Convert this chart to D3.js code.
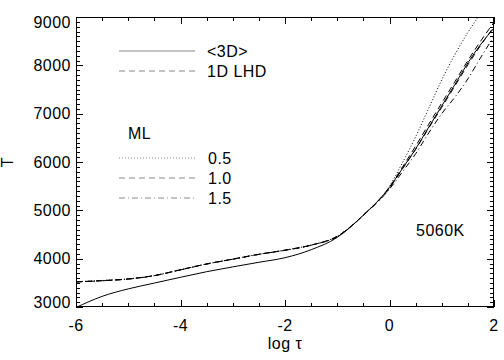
<!DOCTYPE html>
<html><head><meta charset="utf-8">
<script src="https://cdn.jsdelivr.net/npm/d3@7"></script>
<style>body{margin:0;background:#fff}svg{display:block}text{font-family:"Liberation Sans",Arial,sans-serif;font-size:16px;fill:#000;letter-spacing:0.5px}</style>
</head><body><svg id="c" width="504" height="360"></svg>
<script>
const logTau = [-6,-5.5,-5,-4.5,-4,-3.5,-3,-2.5,-2,-1.5,-1,-0.5,0,0.25,0.5,0.75,1,1.25,1.5,1.75,2];
const t3D   = [2990,3220,3375,3495,3615,3730,3830,3925,4020,4185,4440,4900,5475,5870,6270,6720,7160,7600,8050,8440,8770];
const t1DLHD= [3520,3545,3580,3650,3770,3890,3990,4090,4175,4280,4462,4900,5460,5860,6260,6700,7130,7570,8010,8420,8800];
const tML05 = [3525,3548,3582,3652,3772,3892,3992,4092,4178,4282,4465,4905,5500,5990,6520,7110,7700,8220,8680,9080,9450];
const tML10 = [3520,3545,3580,3650,3770,3890,3990,4090,4175,4280,4462,4900,5480,5900,6330,6780,7220,7660,8100,8510,8890];
const tML15 = [3518,3543,3578,3648,3768,3888,3988,4088,4172,4278,4458,4895,5440,5800,6170,6600,7000,7340,7720,8170,8600];
const xTicks = [-6,-4,-2,0,2];
const yTicks = [3000,4000,5000,6000,7000,8000,9000];
const legendTop = [{label:"<3D>",dash:null},{label:"1D LHD",dash:"6,4"}];
const legendML = [{label:"0.5",dash:"1,2"},{label:"1.0",dash:"6,4"},{label:"1.5",dash:"6,3,1,3"}];

const svg = d3.select("#c");
const L=76,R=494,T=17,B=307;
const x = d3.scaleLinear().domain([-6,2]).range([L,R]);
const y = d3.scaleLinear().domain([3000,9000]).range([B,T]);

svg.append("clipPath").attr("id","clip").append("rect").attr("x",L).attr("y",T).attr("width",R-L).attr("height",B-T);

const line = d3.line().x((d,i)=>x(logTau[i])).y(d=>y(d)).curve(d3.curveMonotoneX);
const series = [
  {v:t3D,dash:null},{v:t1DLHD,dash:"6,4"},{v:tML05,dash:"1,2"},{v:tML10,dash:"6,4"},{v:tML15,dash:"6,3,1,3"}
];
const g = svg.append("g").attr("clip-path","url(#clip)");
series.forEach(s=>{
  g.append("path").attr("d",line(s.v)).attr("fill","none").attr("stroke","#000").attr("stroke-width",1)
   .attr("stroke-dasharray",s.dash);
});

// axes frame
const ax = svg.append("g").attr("stroke","#000").attr("stroke-width",1).attr("fill","none");
ax.append("rect").attr("x",L+0.5).attr("y",T+0.5).attr("width",R-L-1).attr("height",B-T-1);
// x ticks
d3.range(-6,2.001,0.5).forEach(v=>{
  const major = xTicks.includes(Math.round(v*10)/10);
  const len = major?7:4;
  const px = Math.round(x(v))+0.5;
  ax.append("line").attr("x1",px).attr("x2",px).attr("y1",B).attr("y2",B-len);
  ax.append("line").attr("x1",px).attr("x2",px).attr("y1",T).attr("y2",T+len);
});
d3.range(3000,9001,100).forEach(v=>{
  const major = v%1000===0;
  const len = major?7:4;
  const py = Math.round(y(v))+0.5;
  ax.append("line").attr("x1",L).attr("x2",L+len).attr("y1",py).attr("y2",py);
  ax.append("line").attr("x1",R).attr("x2",R-len).attr("y1",py).attr("y2",py);
});
// tick labels
xTicks.forEach(v=>{
  svg.append("text").attr("x",x(v)).attr("y",331).attr("text-anchor","middle").text(v);
});
yTicks.forEach(v=>{
  const cy = Math.max(22, Math.min(302, y(v)));
  svg.append("text").attr("x",71).attr("y",cy+5.8).attr("text-anchor","end").text(v);
});
// titles
svg.append("text").attr("x",285).attr("y",349).attr("text-anchor","middle").text("log τ");
svg.append("text").attr("transform","translate(13,162) rotate(-90)").attr("text-anchor","middle").text("T");

// legend
const ly1=[51,71];
legendTop.forEach((d,i)=>{
  svg.append("line").attr("x1",119).attr("x2",195).attr("y1",ly1[i]).attr("y2",ly1[i])
    .attr("stroke","#888").attr("stroke-width",1).attr("stroke-dasharray",d.dash);
  svg.append("text").attr("x",207).attr("y",ly1[i]+5.8).text(d.label);
});
svg.append("text").attr("x",128).attr("y",139).text("ML");
const ly2=[158,178,198];
legendML.forEach((d,i)=>{
  svg.append("line").attr("x1",119).attr("x2",195).attr("y1",ly2[i]).attr("y2",ly2[i])
    .attr("stroke","#888").attr("stroke-width",1).attr("stroke-dasharray",d.dash);
  svg.append("text").attr("x",208).attr("y",ly2[i]+5.8).text(d.label);
});
svg.append("text").attr("x",416).attr("y",236).text("5060K");
</script></body></html>
